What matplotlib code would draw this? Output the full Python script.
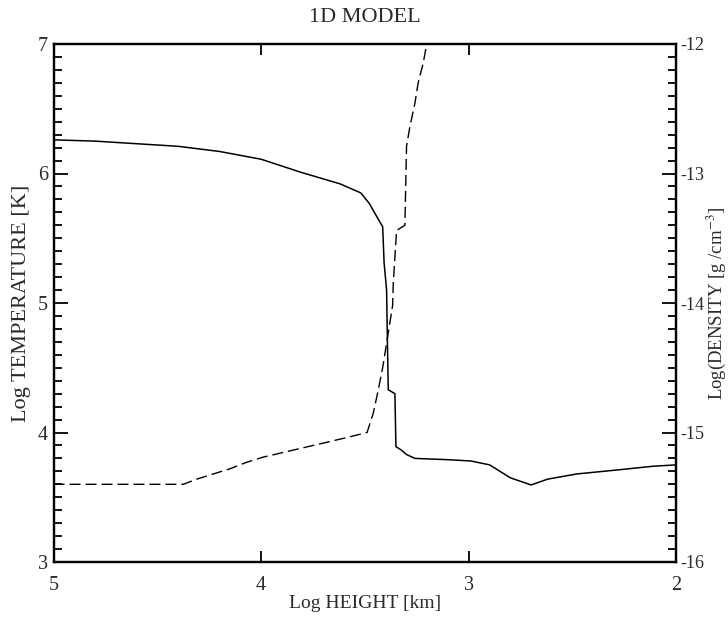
import matplotlib
matplotlib.use("Agg")
import matplotlib.pyplot as plt
from matplotlib.ticker import MultipleLocator, FixedLocator

# ---- data ----
height_T = [5.00, 4.80, 4.60, 4.40, 4.20, 4.00, 3.81, 3.62, 3.52, 3.48, 3.43,
            3.415, 3.408, 3.396, 3.393, 3.388, 3.356, 3.351, 3.33, 3.30, 3.26,
            3.10, 2.99, 2.90, 2.80, 2.70, 2.62, 2.48, 2.29, 2.11, 2.00]
log_T = [6.26, 6.25, 6.23, 6.21, 6.17, 6.11, 6.01, 5.92, 5.85, 5.77, 5.63,
         5.59, 5.31, 5.10, 4.79, 4.33, 4.30, 3.89, 3.87, 3.83, 3.80,
         3.79, 3.78, 3.75, 3.65, 3.595, 3.64, 3.68, 3.71, 3.74, 3.75]

height_D = [5.00, 4.375, 4.31, 4.23, 4.15, 4.07, 3.99, 3.91, 3.83, 3.75, 3.67,
            3.59, 3.49, 3.46, 3.436, 3.415, 3.388, 3.367, 3.364, 3.348, 3.308,
            3.30, 3.284, 3.26, 3.244, 3.22, 3.203]
log_D = [-15.40, -15.40, -15.36, -15.32, -15.28, -15.23, -15.19, -15.16, -15.13,
         -15.10, -15.07, -15.04, -15.00, -14.85, -14.67, -14.50, -14.23, -14.02,
         -13.85, -13.44, -13.40, -12.79, -12.64, -12.46, -12.30, -12.15, -12.00]

x_ticks = [5, 4, 3, 2]
t_ticks = [3, 4, 5, 6, 7]
d_ticks = [-16, -15, -14, -13, -12]

# ---- style ----
plt.rcParams['font.family'] = ['Liberation Serif', 'DejaVu Serif']
plt.rcParams['mathtext.fontset'] = 'stix'
txt_col = '#2a2a2a'

fig = plt.figure(figsize=(7.28, 6.18), dpi=100)
L, R, T, B = 53.5, 676.5, 44, 562
W, H = 728, 618
ax = fig.add_axes([L / W, 1 - B / H, (R - L) / W, (B - T) / H])
ax2 = ax.twinx()

ax.plot(height_T, log_T, color='black', lw=1.1)
ax2.plot(height_D, log_D, color='black', lw=1.0, dashes=(8, 3.5))

ax.set_xlim(5, 2)
ax.set_ylim(3, 7)
ax2.set_ylim(-16, -12)

ax.xaxis.set_major_locator(FixedLocator(x_ticks))
ax.yaxis.set_major_locator(FixedLocator(t_ticks))
ax.yaxis.set_minor_locator(MultipleLocator(0.1))
ax2.yaxis.set_major_locator(FixedLocator(d_ticks))
ax2.yaxis.set_minor_locator(MultipleLocator(0.1))

for a in (ax, ax2):
    for s in a.spines.values():
        s.set_linewidth(1.6)

ax.tick_params(axis='x', which='major', direction='in', top=True, bottom=True,
               length=8, width=1.3, pad=10, labelsize=14.5, labelcolor=txt_col)
ax.tick_params(axis='y', which='major', direction='in', left=True, right=False,
               length=10, width=1.3, pad=4, labelsize=14.5, labelcolor=txt_col)
ax.tick_params(axis='y', which='minor', direction='in', left=True, right=False,
               length=6, width=1.3)
ax2.tick_params(axis='y', which='major', direction='in', right=True,
                length=10, width=1.3, pad=3, labelsize=13, labelcolor=txt_col)
ax2.tick_params(axis='y', which='minor', direction='in', right=True,
                length=6, width=1.3)

ax.set_xticklabels([str(v) for v in x_ticks])
ax.set_yticklabels([str(v) for v in t_ticks])
ax2.set_yticklabels([str(v) for v in d_ticks])

cy = 1 - (T + B) / 2 / H
fig.text((L + R) / 2 / W, 1 - 603 / H, 'Log HEIGHT [km]', ha='center',
         va='center', fontsize=14, color=txt_col)
fig.text(22 / W, cy, 'Log TEMPERATURE [K]', ha='center', va='center',
         rotation=90, fontsize=16, color=txt_col)
fig.text(716 / W, cy, 'Log(DENSITY [g /cm$^{-3}$]', ha='center', va='center',
         rotation=90, fontsize=13.5, color=txt_col)
fig.text((L + R) / 2 / W, 1 - 18 / H, '1D MODEL', ha='center', va='center',
         fontsize=16, color=txt_col)

fig.savefig('out.png', dpi=100)
